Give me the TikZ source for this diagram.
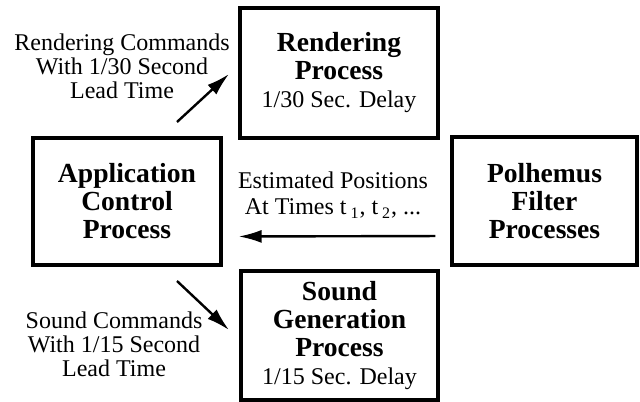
\documentclass[tikz,border=0pt]{standalone}
\usepackage{fontspec}
\setmainfont{Liberation Serif}
\usetikzlibrary{arrows.meta}

\begin{document}
\begin{tikzpicture}[
x=0.5pt, y=-0.5pt,
proc/.style={
rectangle,
draw,
line width=1.6pt,
inner sep=0pt,
align=center,
font=\bfseries\fontsize{13.8}{14}\selectfont
},
note/.style={
align=center,
inner sep=0pt,
font=\fontsize{12}{12}\selectfont
},
arrow/.style={
-{Latex[length=11.5pt,width=6.5pt]},
line width=1.2pt
}
]
\useasboundingbox (0,0) rectangle (640,401);

\node[proc, minimum width=99pt, minimum height=65pt] (render) at (339,73) {Rendering\\Process\\{\normalfont\fontsize{12}{14}\selectfont 1/30 Sec. Delay}};
\node[proc, minimum width=94pt, minimum height=63.5pt] (app) at (127,201.5) {Application\\Control\\Process};
\node[proc, minimum width=92.5pt, minimum height=64pt] (poly) at (544.5,201) {Polhemus\\Filter\\Processes};
\node[proc, minimum width=98.5pt, minimum height=64.5pt] (sound) at (339.5,335.5) {Sound\\Generation\\Process\\{\normalfont\fontsize{12}{14}\selectfont 1/15 Sec. Delay}};

\node[note] (rlabel) at (122,66) {Rendering Commands\\With 1/30 Second\\Lead Time};
\node[note] (slabel) at (114,344) {Sound Commands\\With 1/15 Second\\Lead Time};
\node[note, font=\fontsize{12}{13}\selectfont] (plabel) at (333,195) {Estimated Positions\\At Times t\,\textsubscript{1}, t\,\textsubscript{2}, ...};

\coordinate (rtail) at (177,122);
\coordinate (rhead) at (229,74);
\coordinate (stail) at (177,281);
\coordinate (shead) at (229,330);

\draw[arrow] (rtail) -- (rhead);
\draw[arrow] (stail) -- (shead);
\draw[arrow, shorten <=7.5pt, shorten >=8pt] ([yshift=-17.5pt]poly.west) -- ([yshift=-17.5pt]app.east);

\end{tikzpicture}
\end{document}
